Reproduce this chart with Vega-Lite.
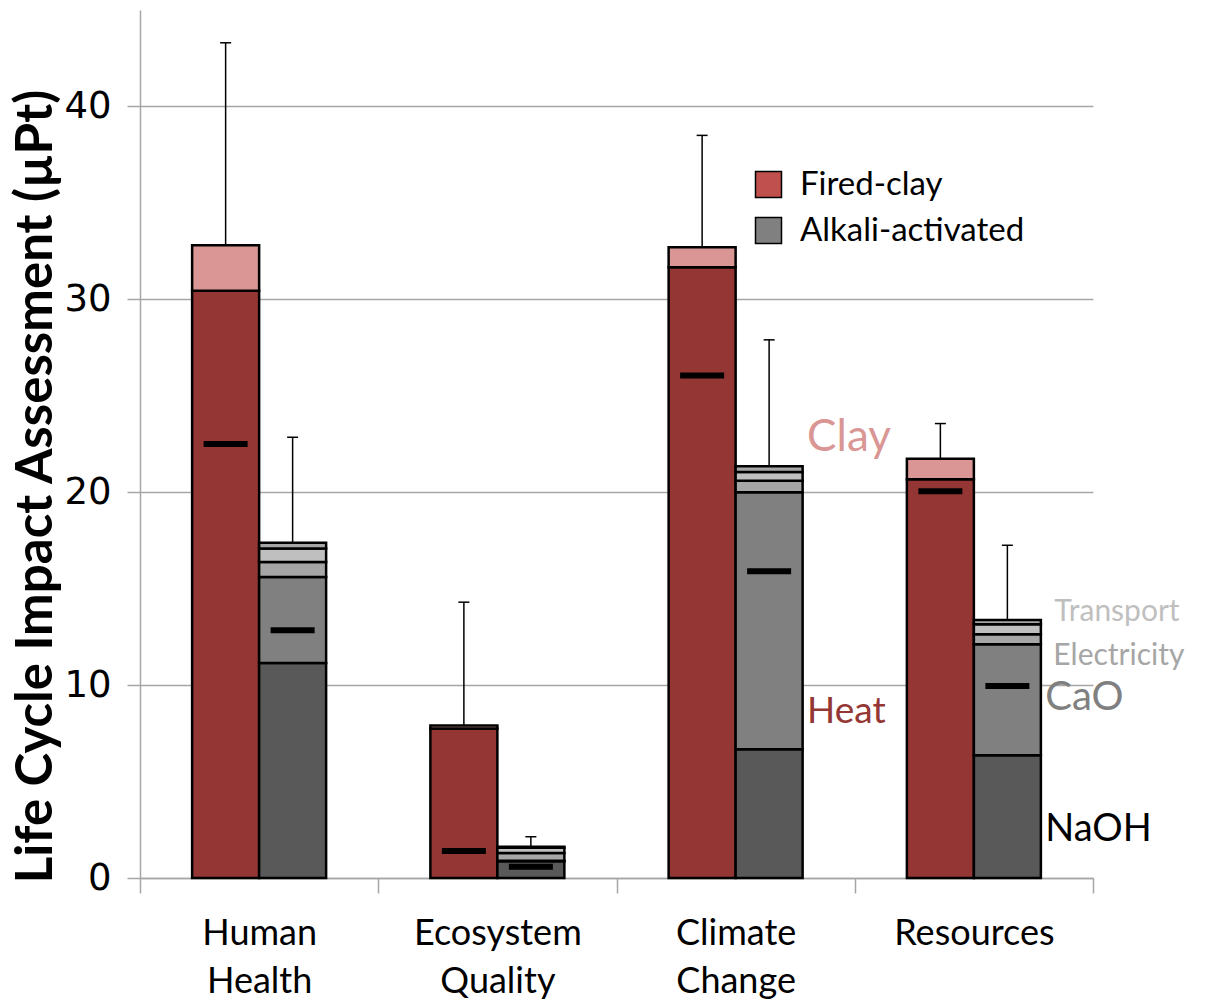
{
  "$schema": "https://vega.github.io/schema/vega-lite/v6.json",
  "width": 953,
  "height": 868,
  "autosize": {"type": "none"},
  "padding": {"left": 140, "top": 10, "right": 113, "bottom": 125},
  "background": "white",
  "config": {
    "view": {"stroke": null},
    "font": "Lato"
  },
  "datasets": {
    "comp": [
      {"cat": "Human Health", "mat": "Fired-clay", "comp": "Heat", "rank": 1, "value": 30.45},
      {"cat": "Human Health", "mat": "Fired-clay", "comp": "Clay", "rank": 2, "value": 2.35},
      {"cat": "Human Health", "mat": "Alkali-activated", "comp": "NaOH", "rank": 1, "value": 11.14},
      {"cat": "Human Health", "mat": "Alkali-activated", "comp": "CaO", "rank": 2, "value": 4.46},
      {"cat": "Human Health", "mat": "Alkali-activated", "comp": "Electricity", "rank": 3, "value": 0.78},
      {"cat": "Human Health", "mat": "Alkali-activated", "comp": "Other", "rank": 4, "value": 0.7},
      {"cat": "Human Health", "mat": "Alkali-activated", "comp": "Transport", "rank": 5, "value": 0.3},
      {"cat": "Ecosystem Quality", "mat": "Fired-clay", "comp": "Heat", "rank": 1, "value": 7.75},
      {"cat": "Ecosystem Quality", "mat": "Fired-clay", "comp": "Clay", "rank": 2, "value": 0.15},
      {"cat": "Ecosystem Quality", "mat": "Alkali-activated", "comp": "NaOH", "rank": 1, "value": 0.87},
      {"cat": "Ecosystem Quality", "mat": "Alkali-activated", "comp": "CaO", "rank": 2, "value": 0.02},
      {"cat": "Ecosystem Quality", "mat": "Alkali-activated", "comp": "Electricity", "rank": 3, "value": 0.4},
      {"cat": "Ecosystem Quality", "mat": "Alkali-activated", "comp": "Other", "rank": 4, "value": 0.28},
      {"cat": "Ecosystem Quality", "mat": "Alkali-activated", "comp": "Transport", "rank": 5, "value": 0.05},
      {"cat": "Climate Change", "mat": "Fired-clay", "comp": "Heat", "rank": 1, "value": 31.66},
      {"cat": "Climate Change", "mat": "Fired-clay", "comp": "Clay", "rank": 2, "value": 1.04},
      {"cat": "Climate Change", "mat": "Alkali-activated", "comp": "NaOH", "rank": 1, "value": 6.68},
      {"cat": "Climate Change", "mat": "Alkali-activated", "comp": "CaO", "rank": 2, "value": 13.32},
      {"cat": "Climate Change", "mat": "Alkali-activated", "comp": "Electricity", "rank": 3, "value": 0.6},
      {"cat": "Climate Change", "mat": "Alkali-activated", "comp": "Other", "rank": 4, "value": 0.45},
      {"cat": "Climate Change", "mat": "Alkali-activated", "comp": "Transport", "rank": 5, "value": 0.3},
      {"cat": "Resources", "mat": "Fired-clay", "comp": "Heat", "rank": 1, "value": 20.67},
      {"cat": "Resources", "mat": "Fired-clay", "comp": "Clay", "rank": 2, "value": 1.07},
      {"cat": "Resources", "mat": "Alkali-activated", "comp": "NaOH", "rank": 1, "value": 6.37},
      {"cat": "Resources", "mat": "Alkali-activated", "comp": "CaO", "rank": 2, "value": 5.75},
      {"cat": "Resources", "mat": "Alkali-activated", "comp": "Electricity", "rank": 3, "value": 0.52},
      {"cat": "Resources", "mat": "Alkali-activated", "comp": "Other", "rank": 4, "value": 0.52},
      {"cat": "Resources", "mat": "Alkali-activated", "comp": "Transport", "rank": 5, "value": 0.21}
    ],
    "summary": [
      {"cat": "Human Health", "mat": "Fired-clay", "total": 32.8, "upper": 43.3, "mid": 22.5},
      {"cat": "Human Health", "mat": "Alkali-activated", "total": 17.38, "upper": 22.85, "mid": 12.85},
      {"cat": "Ecosystem Quality", "mat": "Fired-clay", "total": 7.9, "upper": 14.3, "mid": 1.4},
      {"cat": "Ecosystem Quality", "mat": "Alkali-activated", "total": 1.62, "upper": 2.14, "mid": 0.58},
      {"cat": "Climate Change", "mat": "Fired-clay", "total": 32.7, "upper": 38.5, "mid": 26.05},
      {"cat": "Climate Change", "mat": "Alkali-activated", "total": 21.35, "upper": 27.9, "mid": 15.9},
      {"cat": "Resources", "mat": "Fired-clay", "total": 21.74, "upper": 23.56, "mid": 20.05},
      {"cat": "Resources", "mat": "Alkali-activated", "total": 13.37, "upper": 17.25, "mid": 9.95}
    ],
    "anno": [
      {"cat": "Climate Change", "mat": "Alkali-activated", "label": "Clay", "y": 22.8},
      {"cat": "Climate Change", "mat": "Alkali-activated", "label": "Heat", "y": 8.6},
      {"cat": "Resources", "mat": "Alkali-activated", "label": "Transport", "y": 13.78},
      {"cat": "Resources", "mat": "Alkali-activated", "label": "Electricity", "y": 11.5},
      {"cat": "Resources", "mat": "Alkali-activated", "label": "CaO", "y": 9.33},
      {"cat": "Resources", "mat": "Alkali-activated", "label": "NaOH", "y": 2.49}
    ]
  },
  "layer": [
    {
      "data": {"name": "comp"},
      "mark": {"type": "bar", "stroke": "black", "strokeWidth": 2.5},
      "encoding": {
        "x": {
          "field": "cat", "type": "nominal", "sort": null,
          "scale": {"paddingInner": 0, "paddingOuter": 0},
          "axis": {
            "title": null, "labelAngle": 0, "labelFont": "Lato", "labelFontSize": 36,
            "labelColor": "black", "labelLineHeight": 48, "labelPadding": 23,
            "labelExpr": "split(datum.label, ' ')",
            "tickBand": "extent", "tickSize": 15, "tickColor": "#a6a6a6", "tickWidth": 1.5,
            "domainColor": "#a6a6a6", "domainWidth": 1.5, "grid": false
          }
        },
        "xOffset": {
          "field": "mat", "type": "nominal", "sort": ["Fired-clay", "Alkali-activated"],
          "scale": {"paddingInner": 0, "paddingOuter": 0.778}
        },
        "y": {
          "field": "value", "type": "quantitative", "stack": "zero",
          "scale": {"domain": [0, 45], "nice": false},
          "axis": {
            "values": [0, 10, 20, 30, 40],
            "title": "Life Cycle Impact Assessment (µPt)",
            "titleFont": "Lato", "titleFontSize": 51, "titleFontWeight": "bold", "titleColor": "black",
            "titleX": -104, "titleY": 476, "titleAngle": -90, "titleBaseline": "middle", "titleAlign": "center",
            "labelFont": "DejaVu Sans", "labelFontSize": 37, "labelColor": "black", "labelPadding": 16,
            "tickSize": 13, "tickColor": "#a6a6a6", "tickWidth": 1.5,
            "domainColor": "#a6a6a6", "domainWidth": 1.5,
            "grid": true, "gridColor": "#a6a6a6", "gridWidth": 1.3
          }
        },
        "color": {
          "field": "comp", "type": "nominal",
          "scale": {
            "domain": ["Heat", "Clay", "NaOH", "CaO", "Electricity", "Other", "Transport"],
            "range": ["#943634", "#d99694", "#595959", "#808080", "#a6a6a6", "#bfbfbf", "#a6a6a6"]
          },
          "legend": null
        },
        "order": {"field": "rank", "type": "quantitative"}
      }
    },
    {
      "data": {"name": "summary"},
      "mark": {"type": "rule", "color": "black", "strokeWidth": 1.5},
      "encoding": {
        "x": {"field": "cat", "type": "nominal", "sort": null},
        "xOffset": {"field": "mat", "type": "nominal", "sort": ["Fired-clay", "Alkali-activated"]},
        "y": {"field": "total", "type": "quantitative"},
        "y2": {"field": "upper"}
      }
    },
    {
      "data": {"name": "summary"},
      "mark": {"type": "tick", "color": "black", "opacity": 1, "size": 11, "thickness": 1.5},
      "encoding": {
        "x": {"field": "cat", "type": "nominal", "sort": null},
        "xOffset": {"field": "mat", "type": "nominal", "sort": ["Fired-clay", "Alkali-activated"]},
        "y": {"field": "upper", "type": "quantitative"}
      }
    },
    {
      "data": {"name": "summary"},
      "mark": {"type": "tick", "color": "black", "opacity": 1, "size": 44, "thickness": 6},
      "encoding": {
        "x": {"field": "cat", "type": "nominal", "sort": null},
        "xOffset": {"field": "mat", "type": "nominal", "sort": ["Fired-clay", "Alkali-activated"]},
        "y": {"field": "mid", "type": "quantitative"}
      }
    },
    {
      "data": {"name": "summary"},
      "mark": {"type": "square", "opacity": 0},
      "encoding": {
        "x": {"field": "cat", "type": "nominal", "sort": null},
        "y": {"field": "total", "type": "quantitative"},
        "fill": {
          "field": "mat", "type": "nominal",
          "scale": {"domain": ["Fired-clay", "Alkali-activated"], "range": ["#c0504d", "#808080"]},
          "legend": {
            "title": null, "orient": "none", "legendX": 612, "legendY": 158,
            "symbolType": "square", "symbolSize": 676, "symbolOpacity": 1,
            "symbolStrokeColor": "black", "symbolStrokeWidth": 1.5,
            "labelFont": "Lato", "labelFontSize": 33, "labelColor": "black", "labelLimit": 500,
            "labelOffset": 15, "rowPadding": 12
          }
        }
      }
    },
    {
      "data": {"name": "anno"},
      "transform": [{"filter": "datum.label === 'Clay'"}],
      "mark": {"type": "text", "align": "left", "baseline": "middle", "dx": 38, "fontSize": 44, "font": "Lato", "color": "#d99694"},
      "encoding": {
        "x": {"field": "cat", "type": "nominal", "sort": null},
        "xOffset": {"field": "mat", "type": "nominal", "sort": ["Fired-clay", "Alkali-activated"]},
        "y": {"field": "y", "type": "quantitative"},
        "text": {"field": "label"}
      }
    },
    {
      "data": {"name": "anno"},
      "transform": [{"filter": "datum.label === 'Heat'"}],
      "mark": {"type": "text", "align": "left", "baseline": "middle", "dx": 38, "fontSize": 37, "font": "Lato", "color": "#943634"},
      "encoding": {
        "x": {"field": "cat", "type": "nominal", "sort": null},
        "xOffset": {"field": "mat", "type": "nominal", "sort": ["Fired-clay", "Alkali-activated"]},
        "y": {"field": "y", "type": "quantitative"},
        "text": {"field": "label"}
      }
    },
    {
      "data": {"name": "anno"},
      "transform": [{"filter": "datum.label === 'Transport'"}],
      "mark": {"type": "text", "align": "left", "baseline": "middle", "dx": 47, "fontSize": 30, "font": "Lato", "color": "#bfbfbf"},
      "encoding": {
        "x": {"field": "cat", "type": "nominal", "sort": null},
        "xOffset": {"field": "mat", "type": "nominal", "sort": ["Fired-clay", "Alkali-activated"]},
        "y": {"field": "y", "type": "quantitative"},
        "text": {"field": "label"}
      }
    },
    {
      "data": {"name": "anno"},
      "transform": [{"filter": "datum.label === 'Electricity'"}],
      "mark": {"type": "text", "align": "left", "baseline": "middle", "dx": 46, "fontSize": 30, "font": "Lato", "color": "#a6a6a6"},
      "encoding": {
        "x": {"field": "cat", "type": "nominal", "sort": null},
        "xOffset": {"field": "mat", "type": "nominal", "sort": ["Fired-clay", "Alkali-activated"]},
        "y": {"field": "y", "type": "quantitative"},
        "text": {"field": "label"}
      }
    },
    {
      "data": {"name": "anno"},
      "transform": [{"filter": "datum.label === 'CaO'"}],
      "mark": {"type": "text", "align": "left", "baseline": "middle", "dx": 38, "fontSize": 40, "font": "Lato", "color": "#808080"},
      "encoding": {
        "x": {"field": "cat", "type": "nominal", "sort": null},
        "xOffset": {"field": "mat", "type": "nominal", "sort": ["Fired-clay", "Alkali-activated"]},
        "y": {"field": "y", "type": "quantitative"},
        "text": {"field": "label"}
      }
    },
    {
      "data": {"name": "anno"},
      "transform": [{"filter": "datum.label === 'NaOH'"}],
      "mark": {"type": "text", "align": "left", "baseline": "middle", "dx": 38, "fontSize": 38, "font": "Lato", "color": "black"},
      "encoding": {
        "x": {"field": "cat", "type": "nominal", "sort": null},
        "xOffset": {"field": "mat", "type": "nominal", "sort": ["Fired-clay", "Alkali-activated"]},
        "y": {"field": "y", "type": "quantitative"},
        "text": {"field": "label"}
      }
    }
  ]
}
